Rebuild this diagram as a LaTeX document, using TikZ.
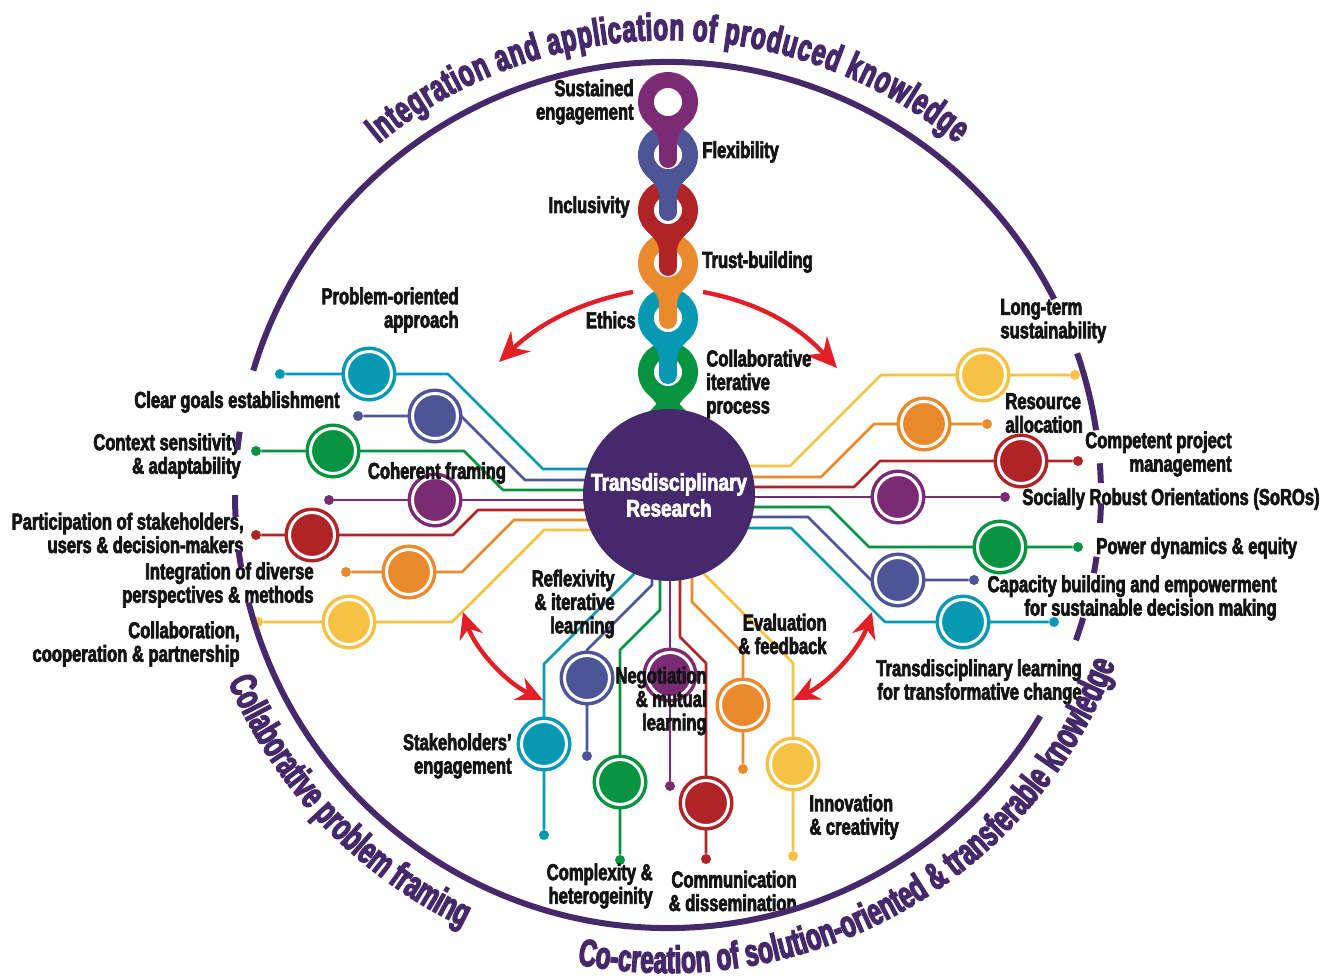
\documentclass[tikz,border=0pt]{standalone}
\usepackage{fontspec}
\usetikzlibrary{arrows.meta}
\setmainfont{Liberation Sans}
\newfontfamily\labfont{Liberation Sans}[FakeStretch=0.72, FakeBold=3]
\newfontfamily\arcfont{Liberation Sans}[FakeStretch=0.64, FakeBold=3.5]
\newfontfamily\hubfont{Liberation Sans}[FakeStretch=0.79, FakeBold=3]
\definecolor{chpurple}{HTML}{7B2B74}
\definecolor{chblue}{HTML}{4E5597}
\definecolor{chred}{HTML}{B02428}
\definecolor{chorange}{HTML}{EB8A2D}
\definecolor{chteal}{HTML}{0799B4}
\definecolor{chgreen}{HTML}{079340}
\definecolor{chyellow}{HTML}{F5C243}
\definecolor{hubc}{HTML}{46296C}
\definecolor{rimc}{HTML}{45296B}
\definecolor{arrowred}{HTML}{E21E26}
\newcommand\arcstyle{\arcfont\bfseries\fontsize{19}{22}\selectfont}

% Caption set letter by letter along a circle around the current origin.
% #1 baseline radius (pt), #2 centre angle, #3 direction (-1 clockwise, 1 counter-clockwise),
% #4 angular span, #5 font, #6 comma separated words
\makeatletter
\newlength\arcW \newlength\arcS \newlength\arcSp
\newcommand\arcmeasure[1]{\setbox0\hbox{\pgfinterruptpicture#1\endpgfinterruptpicture}}
\newcommand\arccaption[6]{%
  \arcmeasure{#5\ }\global\arcSp=\wd0
  \global\arcW=0pt
  \foreach \w in {#6}{%
    \def\arc@next{\@tfor\ch:=}%
    \expandafter\arc@next\w\do{\arcmeasure{#5\ch}\global\advance\arcW by \wd0}%
    \global\advance\arcW by \arcSp}%
  \global\advance\arcW by -\arcSp
  \global\arcS=0pt
  \foreach \w in {#6}{%
    \def\arc@next{\@tfor\ch:=}%
    \expandafter\arc@next\w\do{%
      \arcmeasure{#5\ch}\edef\cw{\the\wd0}\edef\cs{\the\arcS}\edef\cW{\the\arcW}%
      \pgfmathsetmacro\ang{#2 + #3*#4*((\cs + 0.5*\cw)/\cW - 0.5)}%
      \node[anchor=base, inner sep=0pt, outer sep=0pt, text=rimc, rotate={\ang + #3*90}] at (\ang:#1pt) {#5\ch};%
      \global\advance\arcS by \wd0}%
    \global\advance\arcS by \arcSp}%
}
\makeatother

\begin{document}
\begin{tikzpicture}[x=0.5pt,y=-0.5pt,
  lab/.style={font=\labfont\bfseries\fontsize{11.5}{11.75}\selectfont, inner sep=0pt, text=black!92},
  labr/.style={lab, align=right, anchor=east},
  labl/.style={lab, align=left, anchor=west},
  wire/.style={line width=1.3pt, line join=round},
  ring/.style={circle, inner sep=0pt, minimum size=22.5pt, fill=#1, draw=white, line width=1.5pt, preaction={draw=#1, line width=5pt}},
  tip/.style={circle, inner sep=0pt, minimum size=5pt, fill=#1},
  rim/.style={draw=rimc, line width=3pt},
  redarrow/.style={draw=arrowred, line width=2.2pt, -{Stealth[length=15pt,width=14pt]}},
  dblarrow/.style={draw=arrowred, line width=2.2pt, {Stealth[length=13pt,width=12pt]}-{Stealth[length=13pt,width=12pt]}}
]
\useasboundingbox (0,0) rectangle (1323,979);

% ---------- end dots of the circuit lines ----------
\node[tip=chteal]   (dL1) at (280,374) {};
\node[tip=chblue]   (dL2) at (358,416) {};
\node[tip=chgreen]  (dL3) at (256,451) {};
\node[tip=chpurple] (dL4) at (329,500) {};
\node[tip=chred]    (dL5) at (256,535) {};
\node[tip=chorange] (dL6) at (346,572) {};
\node[tip=chyellow] (dL7) at (258,622) {};
\node[tip=chyellow] (dR1) at (1075,375) {};
\node[tip=chorange] (dR2) at (987,424) {};
\node[tip=chred]    (dR3) at (1078,461) {};
\node[tip=chpurple] (dR4) at (1005,497) {};
\node[tip=chgreen]  (dR5) at (1078,547) {};
\node[tip=chblue]   (dR6) at (974,580) {};
\node[tip=chteal]   (dR7) at (1054,622) {};
\node[tip=chteal]   (dB1) at (544,835) {};
\node[tip=chblue]   (dB2) at (587,756) {};
\node[tip=chgreen]  (dB3) at (620,860) {};
\node[tip=chpurple] (dB4) at (670,786) {};
\node[tip=chred]    (dB5) at (706,859) {};
\node[tip=chorange] (dB6) at (743,769) {};
\node[tip=chyellow] (dB7) at (793,856) {};

% ---------- circuit lines from the hub ----------
\draw[wire, chteal]   (620,469) -- (543,469) -- (448,374) -- (dL1);
\draw[wire, chblue]   (620,480) -- (525,480) -- (461,416) -- (dL2);
\draw[wire, chgreen]  (620,490) -- (503,490) -- (464,451) -- (dL3);
\draw[wire, chpurple] (620,500) -- (dL4);
\draw[wire, chred]    (620,510) -- (478,510) -- (453,535) -- (dL5);
\draw[wire, chorange] (620,520) -- (514,520) -- (462,572) -- (dL6);
\draw[wire, chyellow] (620,530) -- (544,530) -- (452,622) -- (dL7);
\draw[wire, chyellow] (720,466) -- (790,466) -- (881,375) -- (dR1);
\draw[wire, chorange] (720,477) -- (821,477) -- (874,424) -- (dR2);
\draw[wire, chred]    (720,487) -- (854,487) -- (880,461) -- (dR3);
\draw[wire, chpurple] (720,497) -- (dR4);
\draw[wire, chgreen]  (720,507) -- (829,507) -- (869,547) -- (dR5);
\draw[wire, chblue]   (720,517) -- (808,517) -- (871,580) -- (dR6);
\draw[wire, chteal]   (720,528) -- (791,528) -- (885,622) -- (dR7);
\draw[wire, chteal]   (655,553) -- (544,664) -- (dB1);
\draw[wire, chblue]   (652,560) -- (652,585) -- (587,650) -- (dB2);
\draw[wire, chgreen]  (660,560) -- (660,610) -- (620,650) -- (dB3);
\draw[wire, chpurple] (670,560) -- (dB4);
\draw[wire, chred]    (680,560) -- (680,637) -- (706,663) -- (dB5);
\draw[wire, chorange] (692,560) -- (692,602) -- (743,653) -- (dB6);
\draw[wire, chyellow] (690,560) -- (793,663) -- (dB7);

% ---------- rings on the lines ----------
\node[ring=chteal]   (rL1) at (369,374) {};
\node[ring=chblue]   (rL2) at (435,416) {};
\node[ring=chgreen]  (rL3) at (333,451) {};
\node[ring=chpurple] (rL4) at (435,500) {};
\node[ring=chred]    (rL5) at (312,535) {};
\node[ring=chorange] (rL6) at (409,572) {};
\node[ring=chyellow] (rL7) at (349,622) {};
\node[ring=chyellow] (rR1) at (983,375) {};
\node[ring=chorange] (rR2) at (924,424) {};
\node[ring=chred]    (rR3) at (1021,461) {};
\node[ring=chpurple] (rR4) at (898,497) {};
\node[ring=chgreen]  (rR5) at (1000,547) {};
\node[ring=chblue]   (rR6) at (898,580) {};
\node[ring=chteal]   (rR7) at (963,622) {};
\node[ring=chteal]   (rB1) at (544,744) {};
\node[ring=chblue]   (rB2) at (587,678) {};
\node[ring=chgreen]  (rB3) at (620,782) {};
\node[ring=chpurple] (rB4) at (670,675) {};
\node[ring=chred]    (rB5) at (706,803) {};
\node[ring=chorange] (rB6) at (743,705) {};
\node[ring=chyellow] (rB7) at (793,764) {};

% ---------- chain of pin-shaped links, drawn from the bottom up ----------
\fill[chgreen] (668,372) circle[radius=15pt];
\draw[chgreen, line width=9pt] (668,380) -- (668,425);
\fill[chgreen] (642,387) .. controls (652,400) and (659,402) .. (659,414) -- (677,414) .. controls (677,402) and (684,400) .. (694,387) -- cycle;
\fill[chgreen] (659,396) .. controls (659,404) and (652,408) .. (646,415) -- (690,415) .. controls (684,408) and (677,404) .. (677,396) -- cycle;
\fill[white] (668,372) circle[radius=7pt];
\foreach \cy/\cc in {318/chteal, 263/chorange, 210/chred, 155/chblue, 102/chpurple}{
  \fill[\cc] (668,\cy) circle[radius=15pt];
  \fill[\cc] (642,\cy+15) .. controls (652,\cy+28) and (659,\cy+30) .. (659,\cy+42) -- (677,\cy+42) .. controls (677,\cy+30) and (684,\cy+28) .. (694,\cy+15) -- cycle;
  \draw[\cc, line width=9pt, line cap=round] (668,\cy+20) -- (668,\cy+57);
  \fill[white] (668,\cy) circle[radius=7pt];
}

% ---------- hub ----------
\node[circle, fill=hubc, minimum size=86pt, inner sep=0pt, text=white, align=center,
  font=\hubfont\bfseries\fontsize{12}{13}\selectfont] (tdr) at (669,495) {Transdisciplinary\\Research};

% ---------- red arrows ----------
\coordinate (aL0) at (633,292); \coordinate (aL1) at (499,362);
\coordinate (aR0) at (703,292); \coordinate (aR1) at (837,368);
\coordinate (bL0) at (463,612); \coordinate (bL1) at (543,700);
\coordinate (bR0) at (872,612); \coordinate (bR1) at (793,700);
\draw[redarrow] (aL0) .. controls (590,300) and (545,318) .. (aL1);
\draw[redarrow] (aR0) .. controls (746,300) and (791,318) .. (aR1);
\draw[dblarrow] (bL0) .. controls (475,648) and (505,682) .. (bL1);
\draw[dblarrow] (bR0) .. controls (860,648) and (830,682) .. (bR1);

% ---------- labels of the chain ----------
\node[labr] (tSus) at (634,102) {Sustained\\engagement};
\node[labl] (tFle) at (702,152) {Flexibility};
\node[labr] (tInc) at (630,207) {Inclusivity};
\node[labl] (tTru) at (702,262) {Trust-building};
\node[labr] (tEth) at (636,320) {Ethics};
\node[labl] (tCol) at (706,384) {Collaborative\\iterative\\process};

% ---------- labels of the circuit ----------
\node[labr] (tPro) at (459,310) {Problem-oriented\\approach};
\node[labr] (tCle) at (340,402) {Clear goals establishment};
\node[labr] (tCon) at (241,456) {Context sensitivity\\\& adaptability};
\node[lab]  (tCoh) at (437,473) {Coherent framing};
\node[labr] (tPar) at (244,533) {Participation of stakeholders,\\users \& decision-makers};
\node[labr] (tInt) at (314,585) {Integration of diverse\\perspectives \& methods};
\node[labr] (tClb) at (240,644) {Collaboration,\\cooperation \& partnership};
\node[labr] (tRef) at (615,604) {Reflexivity\\\& iterative\\learning};
\node[labr] (tSta) at (512,756) {Stakeholders’\\engagement};
\node[labr] (tNeg) at (707,701) {Negotiation\\\& mutual\\learning};
\node[labr] (tCom) at (653,886) {Complexity \&\\heterogeinity};
\node[labr] (tCmm) at (797,891) {Communication\\\& dissemination};
\node[labr] (tEva) at (827,634) {Evaluation\\\& feedback};
\node[labl] (tInn) at (809,817) {Innovation\\\& creativity};
\node[labr] (tTra) at (1082,682) {Transdisciplinary learning\\for transformative change};
\node[labr] (tCap) at (1277,598) {Capacity building and empowerment\\for sustainable decision making};
\node[labl] (tPow) at (1096,548) {Power dynamics \& equity};
\node[labr] (tSoc) at (1320,499) {Socially Robust Orientations (SoROs)};
\node[labr] (tCpm) at (1232,454) {Competent project\\management};
\node[labl] (tRes) at (1005,413) {Resource\\allocation};
\node[labl] (tLon) at (1000,321) {Long-term\\sustainability};

% ---------- outer rim and its captions ----------
\begin{scope}[shift={(668,495)}, x=0.5pt, y=0.5pt]
  \draw[rim] (26.9:433) arc[start angle=26.9, end angle=163.3, radius=433];
  \draw[rim] (8.6:433) arc[start angle=8.6, end angle=19.1, radius=433];
  \foreach \a/\b in {1.6/4.2, -3.7/-1.1, -10.4/-8.2, -19.6/-16.5, 171.6/174, 180/182.9, 187.3/189.6}
    \draw[rim] (\a:433) arc[start angle=\a, end angle=\b, radius=433];
  \draw[rim] (194.4:433) arc[start angle=194.4, end angle=329.3, radius=433];
  \arccaption{227.5}{90}{-1}{79}{\arcstyle}{Integration,and,application,of,produced,knowledge}
  \arccaption{239}{223.8}{1}{41.6}{\arcstyle}{Collaborative,problem,framing}
  \arccaption{239}{299.2}{1}{80.3}{\arcstyle}{Co-creation,of,solution-oriented,\&,transferable,knowledge}
\end{scope}
\end{tikzpicture}
\end{document}
